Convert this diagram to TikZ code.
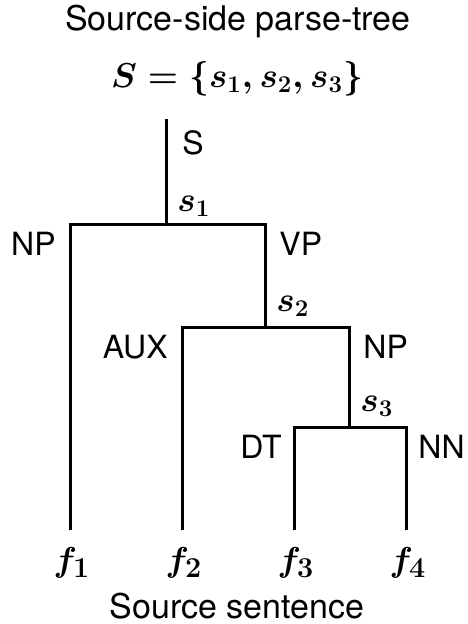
\documentclass[tikz,border=0pt]{standalone}
\usepackage{fontspec}
\setmainfont{TeX Gyre Heros}
\usetikzlibrary{positioning}

\begin{document}
\begin{tikzpicture}[x=0.5pt, y=-0.5pt,
  branch/.style={line width=1.5pt, line cap=rect},
  cat/.style={font=\fontsize{16}{18}\selectfont, inner sep=0pt},
  lbl/.style={font=\fontsize{18}{20}\selectfont\boldmath, inner sep=0pt},
  word/.style={font=\fontsize{19}{21}\selectfont\boldmath, inner sep=0pt},
]
\useasboundingbox (0,0) rectangle (467,624);
% headings
\node[cat, font=\fontsize{17}{19}\selectfont] (title) at (238,22) {Source-side parse-tree};
\node[font=\fontsize{17.5}{20}\selectfont\boldmath, inner sep=0pt] (set) at (237,79) {$S=\{s_1,s_2,s_3\}$};
% junctions
\coordinate (top) at (166,121);
\coordinate (n1) at (166,225);
\coordinate (np1) at (70,225);
\coordinate (vp) at (265,225);
\coordinate (n2) at (265,327);
\coordinate (aux) at (182,327);
\coordinate (np2) at (349,327);
\coordinate (n3) at (349,427);
\coordinate (dt) at (294,427);
\coordinate (nn) at (406,427);
\coordinate (e1) at (70,528);
\coordinate (e2) at (182,528);
\coordinate (e3) at (294,528);
\coordinate (e4) at (406,528);
% tree
\draw[branch] (top) -- (n1);
\draw[branch] (e1) -- (np1) -- (vp) -- (n2);
\draw[branch] (e2) -- (aux) -- (np2) -- (n3);
\draw[branch] (e3) -- (dt) -- (nn) -- (e4);
% labels
\node[cat, anchor=west] (lS) at (182,143) {S};
\node[lbl, anchor=west] (ls1) at (177,206) {$s_1$};
\node[cat, anchor=east] (lNP1) at (56,244) {NP};
\node[cat, anchor=west] (lVP) at (279,244) {VP};
\node[lbl, anchor=west] (ls2) at (276,306) {$s_2$};
\node[cat, anchor=east] (lAUX) at (168,347) {AUX};
\node[cat, anchor=west] (lNP2) at (363,347) {NP};
\node[lbl, anchor=west] (ls3) at (360,406) {$s_3$};
\node[cat, anchor=east] (lDT) at (282,447) {DT};
\node[cat, anchor=west] (lNN) at (418,447) {NN};
% source words
\node[word] (f1) at (72,563) {$f_1$};
\node[word] (f2) at (184,563) {$f_2$};
\node[word] (f3) at (296,563) {$f_3$};
\node[word] (f4) at (408,563) {$f_4$};
\node[cat, font=\fontsize{17}{19}\selectfont] (sent) at (237,606) {Source sentence};
\end{tikzpicture}
\end{document}
